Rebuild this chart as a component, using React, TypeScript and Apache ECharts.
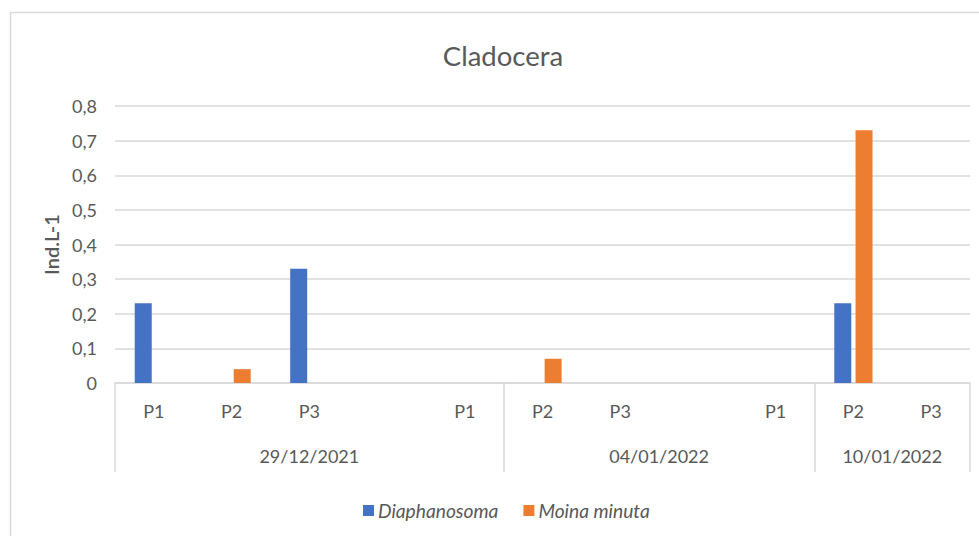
import React, { useEffect, useRef } from "react";
import * as echarts from "echarts";

const categories = ["P1", "P2", "P3", "", "P1", "P2", "P3", "", "P1", "P2", "P3"];
const diaphanosoma = [0.23, 0, 0.33, 0, 0, 0, 0, 0, 0, 0.23, 0];
const moinaMinuta = [0, 0.04, 0, 0, 0, 0.07, 0, 0, 0, 0.73, 0];
const groupLabels = ["29/12/2021", "04/01/2022", "10/01/2022"];
const groupBounds = [0, 5, 9, 11];
const yTicks = [0, 0.1, 0.2, 0.3, 0.4, 0.5, 0.6, 0.7, 0.8];

const FONT = "Lato, 'Open Sans', sans-serif";
const GREY = "#595959";
const LINE = "#d9d9d9";

export default function App() {
  const ref = useRef<HTMLDivElement>(null);
  useEffect(() => {
    document.body.style.margin = "0";
    const chart = echarts.init(ref.current!, null, { renderer: "svg" });
    const groupCenters = groupLabels.map((_, i) => (groupBounds[i] + groupBounds[i + 1]) / 2);
    chart.setOption({
      animation: false,
      backgroundColor: "#ffffff",
      title: {
        text: "Cladocera",
        left: 498,
        textAlign: "center",
        top: 36,
        textStyle: { fontFamily: FONT, fontSize: 27.5, fontWeight: "normal", color: GREY },
      },
      graphic: [
        {
          type: "rect",
          shape: { x: 10.5, y: 12.5, width: 1000, height: 600 },
          style: { fill: "none", stroke: LINE, lineWidth: 1.5 },
          silent: true,
        },
      ],
      legend: {
        left: 358,
        top: 496,
        itemWidth: 11,
        itemHeight: 11,
        itemGap: 25,
        icon: "rect",
        data: ["Diaphanosoma", "Moina minuta"],
        textStyle: { fontFamily: FONT, fontSize: 19.2, fontStyle: "italic", color: GREY, padding: [0, 0, 0, -1] },
      },
      grid: { left: 115, right: 9, top: 106, bottom: 153 },
      xAxis: [
        {
          type: "category",
          data: categories,
          axisLine: { show: true, lineStyle: { color: LINE, width: 1.5 } },
          axisTick: { show: false },
          axisLabel: { interval: 0, margin: 19, fontFamily: FONT, fontSize: 18, color: GREY },
          splitLine: { show: false },
        },
        {
          type: "value",
          position: "bottom",
          min: 0,
          max: categories.length,
          axisLine: { show: false },
          axisTick: {
            show: true,
            inside: false,
            length: 89,
            customValues: groupBounds,
            lineStyle: { color: LINE, width: 1.5 },
          },
          axisLabel: {
            show: true,
            customValues: groupCenters,
            margin: 64,
            formatter: (v: number) => {
              const i = groupCenters.findIndex((c) => Math.abs(c - v) < 1e-6);
              return i >= 0 ? groupLabels[i] : "";
            },
            fontFamily: FONT,
            fontSize: 18,
            color: GREY,
          },
          splitLine: { show: false },
        },
      ],
      yAxis: {
        type: "value",
        min: 0,
        max: 0.8,
        interval: 0.1,
        name: "Ind.L-1",
        nameLocation: "middle",
        nameGap: 51,
        nameRotate: 90,
        nameTextStyle: { fontFamily: FONT, fontSize: 20, fontWeight: 600, color: GREY },
        axisLine: { show: false },
        axisTick: { show: false },
        axisLabel: {
          margin: 18,
          fontFamily: FONT,
          fontSize: 18,
          color: GREY,
          formatter: (v: number) => {
            const t = yTicks.find((x) => Math.abs(x - v) < 1e-9);
            const val = t === undefined ? v : t;
            return val === 0 ? "0" : val.toFixed(1).replace(".", ",");
          },
        },
        splitLine: { lineStyle: { color: LINE, width: 1.5 } },
      },
      series: [
        {
          name: "Diaphanosoma",
          type: "bar",
          xAxisIndex: 0,
          data: diaphanosoma,
          barWidth: 17,
          barGap: "25%",
          itemStyle: { color: "#4472C4" },
        },
        {
          name: "Moina minuta",
          type: "bar",
          xAxisIndex: 0,
          data: moinaMinuta,
          barWidth: 17,
          barGap: "25%",
          itemStyle: { color: "#ED7D31" },
        },
      ],
    });
    return () => chart.dispose();
  }, []);
  return <div ref={ref} style={{ width: 979, height: 536 }} />;
}
